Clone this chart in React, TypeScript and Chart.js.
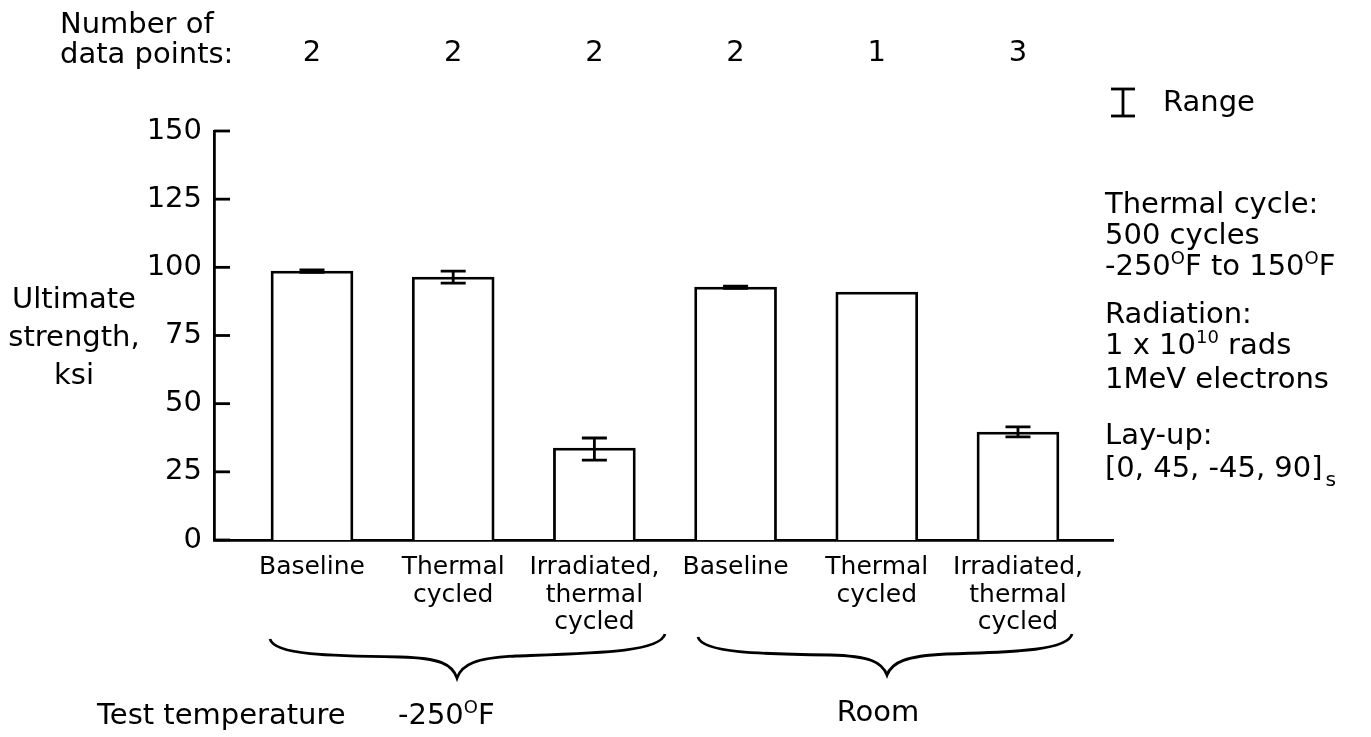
import React, { useEffect, useRef } from "react";
import { Chart, registerables } from "chart.js";

Chart.register(...registerables);

// ---------- data ----------
const categories: string[][] = [
  ["Baseline"],
  ["Thermal", "cycled"],
  ["Irradiated,", "thermal", "cycled"],
  ["Baseline"],
  ["Thermal", "cycled"],
  ["Irradiated,", "thermal", "cycled"],
];
const barPositions = [1, 2, 3, 4, 5, 6];
const ultimateStrength = [98.6, 96.4, 33.7, 92.8, 90.9, 39.6];
const rangeLow: (number | null)[] = [98.2, 94.2, 29.3, 92.3, null, 37.8];
const rangeHigh: (number | null)[] = [99.1, 98.6, 37.4, 93.1, null, 41.5];
const dataPointCounts = [2, 2, 2, 2, 1, 3];
const yTickValues = [0, 25, 50, 75, 100, 125, 150];

const FONT = "'DejaVu Sans', 'Liberation Sans', sans-serif";
const X_MIN = 0.306;
const X_MAX = 6.673;
const LINE_W = 2.8;

const decorPlugin = {
  id: "decorPlugin",
  afterDatasetsDraw(chart: any) {
    const { ctx, chartArea, scales } = chart;
    const y = scales.y;
    ctx.save();
    ctx.strokeStyle = "#000";
    ctx.lineWidth = LINE_W;
    ctx.lineCap = "butt";
    const meta = chart.getDatasetMeta(0);
    meta.data.forEach((el: any, i: number) => {
      const lo = rangeLow[i];
      const hi = rangeHigh[i];
      if (lo == null || hi == null) return;
      const x = el.x;
      const yl = y.getPixelForValue(lo);
      const yh = y.getPixelForValue(hi);
      ctx.beginPath();
      ctx.moveTo(x, yl);
      ctx.lineTo(x, yh);
      ctx.moveTo(x - 12.5, yl);
      ctx.lineTo(x + 12.5, yl);
      ctx.moveTo(x - 12.5, yh);
      ctx.lineTo(x + 12.5, yh);
      ctx.stroke();
    });
    y.ticks.forEach((t: any) => {
      const py = y.getPixelForValue(t.value);
      ctx.beginPath();
      ctx.moveTo(chartArea.left, py);
      ctx.lineTo(chartArea.left + 16, py);
      ctx.stroke();
    });
    ctx.restore();
  },
};

const Sup = ({ children }: { children: React.ReactNode }) => (
  <span style={{ fontSize: "0.62em", position: "relative", top: "-0.62em" }}>{children}</span>
);
const Sub = ({ children }: { children: React.ReactNode }) => (
  <span style={{ fontSize: "0.7em", position: "relative", top: "0.45em", marginLeft: 3 }}>{children}</span>
);

export default function App() {
  const canvasRef = useRef<HTMLCanvasElement | null>(null);

  useEffect(() => {
    if (!canvasRef.current) return;
    const chart = new Chart(canvasRef.current, {
      type: "bar",
      data: {
        datasets: [
          {
            data: barPositions.map((p, i) => ({ x: p, y: ultimateStrength[i] })),
            backgroundColor: "#ffffff",
            borderColor: "#000000",
            borderWidth: LINE_W,
            borderSkipped: "bottom",
            barThickness: 82,
            xAxisID: "x",
            yAxisID: "y",
          } as any,
        ],
      },
      options: {
        animation: false,
        responsive: false,
        devicePixelRatio: 1,
        layout: { padding: { left: 0, right: 258, top: 0, bottom: 0 } },
        plugins: { legend: { display: false }, tooltip: { enabled: false } },
        scales: {
          x: {
            type: "linear",
            position: "bottom",
            min: X_MIN,
            max: X_MAX,
            offset: false,
            grid: { display: false, drawTicks: false },
            border: { display: true, color: "#000", width: LINE_W },
            afterBuildTicks: (scale: any) => {
              scale.ticks = barPositions.map((v) => ({ value: v }));
            },
            afterFit: (scale: any) => {
              scale.height = 197;
            },
            ticks: {
              autoSkip: false,
              maxRotation: 0,
              minRotation: 0,
              padding: 14,
              color: "#000",
              font: { family: FONT, size: 25, lineHeight: 1.1 },
              callback: (v: any) => {
                const idx = barPositions.indexOf(Number(v));
                return idx >= 0 ? categories[idx] : "";
              },
            },
          },
          xTop: {
            type: "linear",
            position: "top",
            min: X_MIN,
            max: X_MAX,
            offset: false,
            grid: { display: false, drawTicks: false },
            border: { display: false },
            afterBuildTicks: (scale: any) => {
              scale.ticks = barPositions.map((v) => ({ value: v }));
            },
            afterFit: (scale: any) => {
              scale.height = 131;
            },
            ticks: {
              autoSkip: false,
              maxRotation: 0,
              minRotation: 0,
              padding: 60,
              color: "#000",
              font: { family: FONT, size: 29 },
              callback: (v: any) => {
                const idx = barPositions.indexOf(Number(v));
                return idx >= 0 ? String(dataPointCounts[idx]) : "";
              },
            },
          },
          y: {
            type: "linear",
            position: "left",
            min: 0,
            max: 150,
            grid: { display: false, drawTicks: false },
            border: { display: true, color: "#000", width: LINE_W },
            afterBuildTicks: (scale: any) => {
              scale.ticks = yTickValues.map((v) => ({ value: v }));
            },
            afterFit: (scale: any) => {
              scale.width = 214;
            },
            ticks: {
              padding: 12,
              color: "#000",
              font: { family: FONT, size: 29 },
            },
          },
        },
      } as any,
      plugins: [decorPlugin],
    });
    return () => chart.destroy();
  }, []);

  const text: React.CSSProperties = {
    position: "absolute",
    fontFamily: FONT,
    fontSize: 29,
    color: "#000",
    whiteSpace: "nowrap",
  };

  return (
    <div
      style={{
        position: "fixed",
        left: 0,
        top: 0,
        width: 1371,
        height: 737,
        background: "#fff",
        overflow: "hidden",
      }}
    >
      <canvas ref={canvasRef} width={1371} height={737} style={{ position: "absolute", left: 0, top: 0 }} />

      <div style={{ ...text, left: 60, top: 8, lineHeight: "30px" }}>
        Number of
        <br />
        data points:
      </div>

      <div style={{ ...text, left: 74, top: 279, lineHeight: "38px", transform: "translateX(-50%)", textAlign: "center" }}>
        Ultimate
        <br />
        strength,
        <br />
        ksi
      </div>

      <div style={{ ...text, left: 1163, top: 86, lineHeight: "31px" }}>Range</div>

      <div style={{ ...text, left: 1105, top: 188, lineHeight: "31px" }}>
        Thermal cycle:
        <br />
        500 cycles
        <br />
        -250<Sup>O</Sup>F to 150<Sup>O</Sup>F
      </div>

      <div style={{ ...text, left: 1105, top: 298, lineHeight: "31px" }}>
        Radiation:
        <br />1 x 10<Sup>10</Sup> rads
        <br />
        1MeV electrons
      </div>

      <div style={{ ...text, left: 1105, top: 418, lineHeight: "33px" }}>
        Lay-up:
        <br />
        [0, 45, -45, 90]<Sub>s</Sub>
      </div>

      <div style={{ ...text, left: 97, top: 699, lineHeight: "31px" }}>Test temperature</div>
      <div style={{ ...text, left: 398, top: 699, lineHeight: "31px" }}>
        -250<Sup>O</Sup>F
      </div>
      <div style={{ ...text, left: 878, top: 696, lineHeight: "31px", transform: "translateX(-50%)" }}>Room</div>

      <svg
        width={1371}
        height={737}
        style={{ position: "absolute", left: 0, top: 0, pointerEvents: "none" }}
      >
        <g fill="none" stroke="#000" strokeWidth={2.8}>
          <path d="M 270 639 C 274 655, 330 656, 400 657 C 440 658, 452 664, 457 678 C 462 664, 476 658, 516 656 C 600 653, 660 652, 665 634" />
          <path d="M 698 637 C 702 653, 760 654, 830 655 C 870 656, 882 662, 887 675 C 892 662, 906 656, 946 654 C 1020 652, 1068 650, 1072 634" />
          <line x1={1123} y1={89} x2={1123} y2={116} />
          <line x1={1111} y1={89} x2={1135} y2={89} />
          <line x1={1111} y1={116} x2={1135} y2={116} />
        </g>
      </svg>
    </div>
  );
}
